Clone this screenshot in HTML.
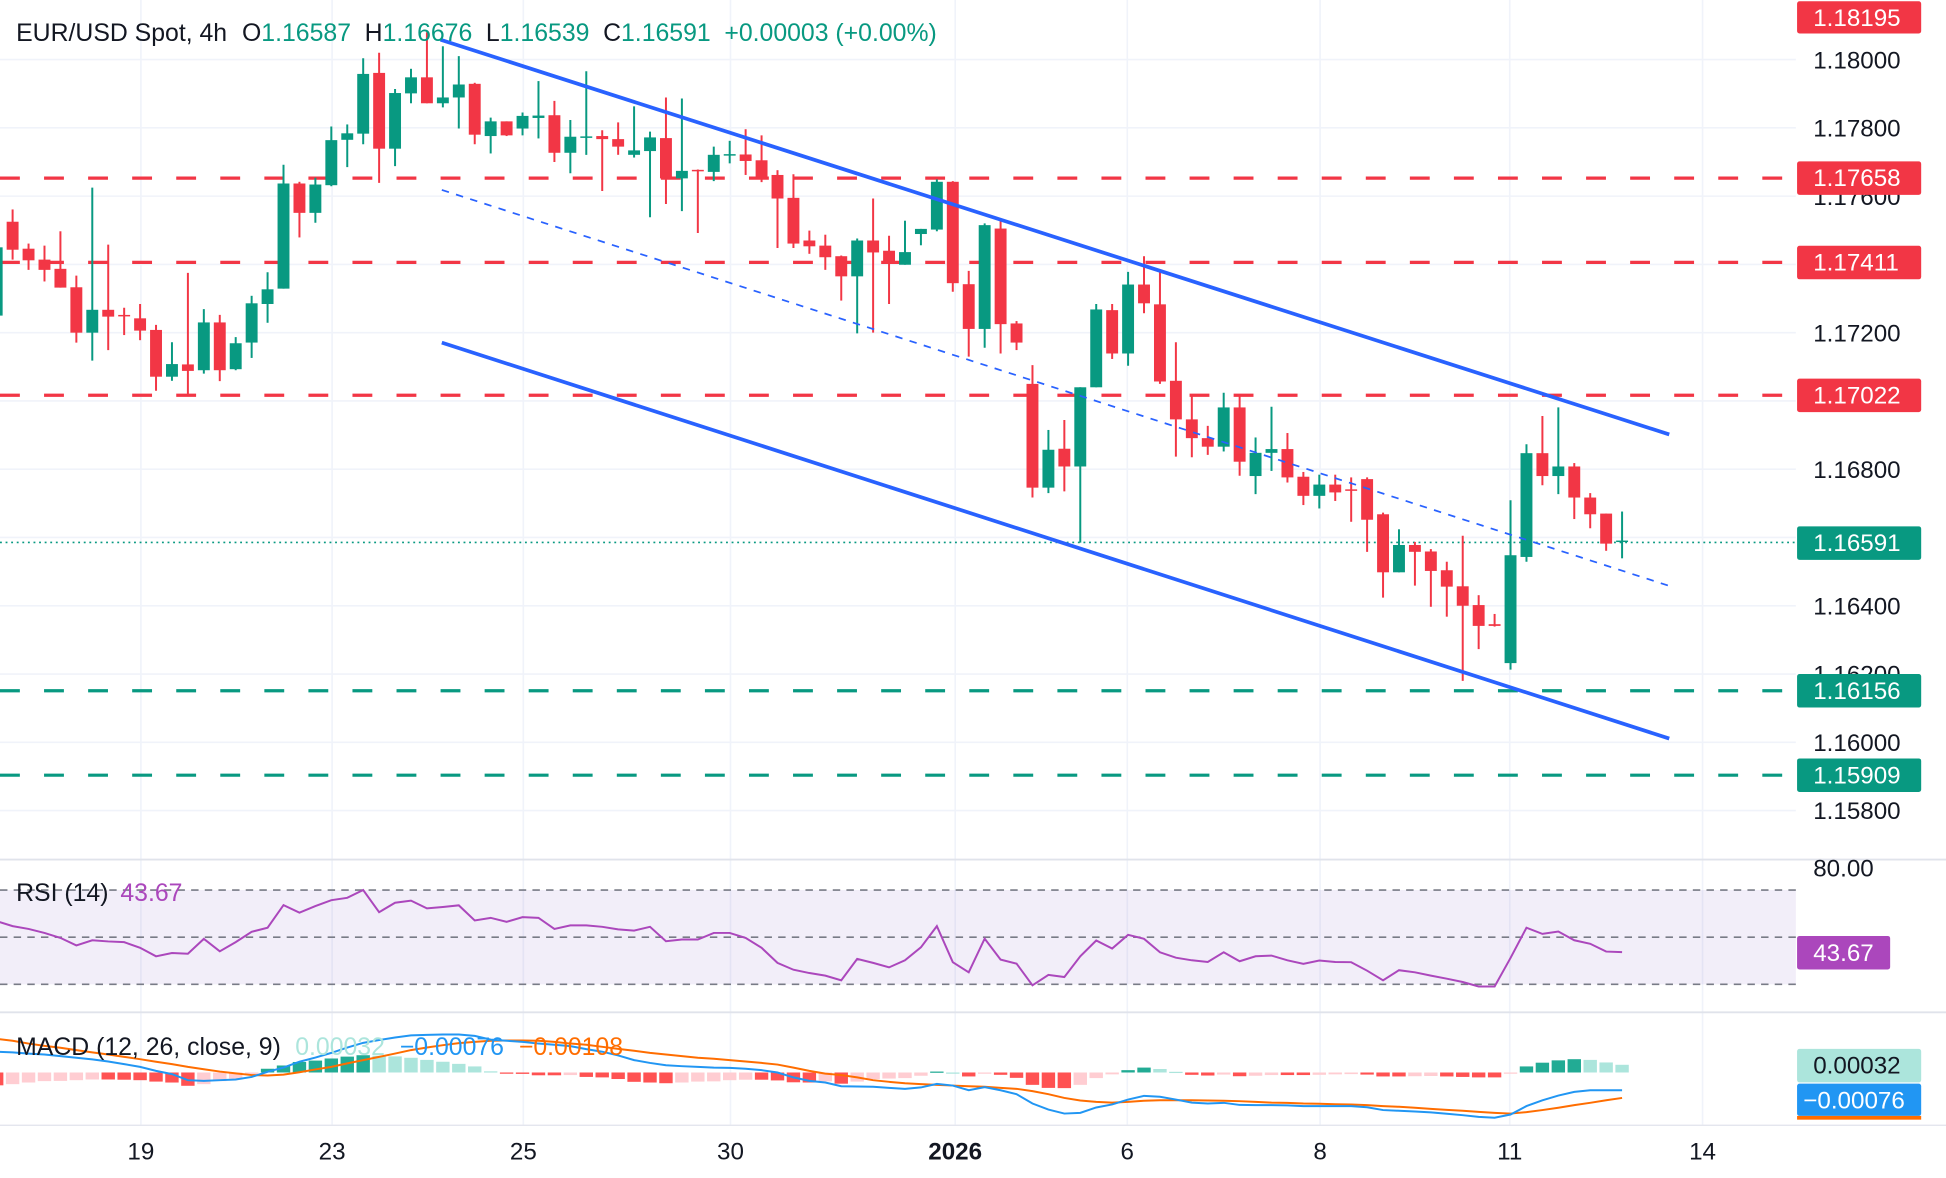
<!DOCTYPE html>
<html><head><meta charset="utf-8"><style>
html,body{margin:0;padding:0;background:#fff;}
svg{display:block;font-family:"Liberation Sans",sans-serif;}
</style></head><body>
<svg id="chart" width="1946" height="1178" viewBox="0 0 1568 949" preserveAspectRatio="none" xmlns="http://www.w3.org/2000/svg">
<defs>
<clipPath id="mainClip"><rect x="0" y="0" width="1447" height="692"/></clipPath>
<clipPath id="rsiClip"><rect x="0" y="693" width="1447" height="122"/></clipPath>
<clipPath id="macdClip"><rect x="0" y="816" width="1447" height="90"/></clipPath>
</defs>
<rect x="0" y="0" width="1568" height="949" fill="#ffffff"/>
<g id="grid"></g>
<g id="rsiBand">
<rect x="0" y="717" width="1447" height="76" fill="#7e57c2" fill-opacity="0.1"/>
<line x1="0" y1="717" x2="1447" y2="717" stroke="#787b86" stroke-width="1.3" stroke-dasharray="6 5"/>
<line x1="0" y1="755" x2="1447" y2="755" stroke="#787b86" stroke-width="1.3" stroke-dasharray="6 5"/>
<line x1="0" y1="793" x2="1447" y2="793" stroke="#787b86" stroke-width="1.3" stroke-dasharray="6 5"/>
</g>
<g id="levels" clip-path="url(#mainClip)">
<line x1="0" y1="143.5" x2="1447" y2="143.5" stroke="#f23645" stroke-width="2.6" stroke-dasharray="16 19.5"/>
<line x1="0" y1="211.4" x2="1447" y2="211.4" stroke="#f23645" stroke-width="2.6" stroke-dasharray="16 19.5"/>
<line x1="0" y1="318.4" x2="1447" y2="318.4" stroke="#f23645" stroke-width="2.6" stroke-dasharray="16 19.5"/>
<line x1="0" y1="556.5" x2="1447" y2="556.5" stroke="#089981" stroke-width="2.6" stroke-dasharray="16 19.5"/>
<line x1="0" y1="624.5" x2="1447" y2="624.5" stroke="#089981" stroke-width="2.6" stroke-dasharray="16 19.5"/>
<line x1="0" y1="437" x2="1447" y2="437" stroke="#089981" stroke-width="1.3" stroke-dasharray="1.5 3"/>
</g>
<g id="candles" clip-path="url(#mainClip)"></g>
<g id="channel" clip-path="url(#mainClip)">
<line x1="355" y1="32" x2="1345" y2="350" stroke="#2962ff" stroke-width="3"/>
<line x1="356" y1="276" x2="1345" y2="595" stroke="#2962ff" stroke-width="3"/>
<line x1="356" y1="153" x2="1345" y2="472" stroke="#2962ff" stroke-width="1.4" stroke-dasharray="6 6"/>
</g>
<g id="rsi" clip-path="url(#rsiClip)"></g>
<g id="macd" clip-path="url(#macdClip)"></g>
<line x1="0" y1="692.5" x2="1568" y2="692.5" stroke="#e0e3eb" stroke-width="1.5"/>
<line x1="0" y1="815.5" x2="1568" y2="815.5" stroke="#e0e3eb" stroke-width="1.5"/>
<line x1="0" y1="906.5" x2="1568" y2="906.5" stroke="#e0e3eb" stroke-width="1"/>
<g id="yaxis" font-size="19.5" fill="#131722"></g>
<g id="xaxis" font-size="19.5" fill="#131722" text-anchor="middle"></g>
<g font-size="19.5">
<rect x="1448" y="1" width="100" height="26" rx="2" fill="#f23645"/><text x="1461" y="21" fill="#fff">1.18195</text>
<rect x="1448" y="130" width="100" height="27" rx="2" fill="#f23645"/><text x="1461" y="150" fill="#fff">1.17658</text>
<rect x="1448" y="198" width="100" height="27" rx="2" fill="#f23645"/><text x="1461" y="218" fill="#fff">1.17411</text>
<rect x="1448" y="305" width="100" height="27" rx="2" fill="#f23645"/><text x="1461" y="325" fill="#fff">1.17022</text>
<rect x="1448" y="424" width="100" height="27" rx="2" fill="#089981"/><text x="1461" y="444" fill="#fff">1.16591</text>
<rect x="1448" y="543" width="100" height="27" rx="2" fill="#089981"/><text x="1461" y="563" fill="#fff">1.16156</text>
<rect x="1448" y="611" width="100" height="27" rx="2" fill="#089981"/><text x="1461" y="631" fill="#fff">1.15909</text>
<text x="1461" y="706" fill="#131722">80.00</text>
<rect x="1448" y="754" width="75" height="27" rx="2" fill="#ab47bc"/><text x="1461" y="774" fill="#fff">43.67</text>
<rect x="1448" y="845" width="100" height="27" rx="2" fill="#ace5dc"/><text x="1461" y="865" fill="#131722">0.00032</text>
<rect x="1448" y="873" width="100" height="26" rx="2" fill="#2196f3"/><text x="1453" y="893" fill="#fff">−0.00076</text>
<rect x="1448" y="899" width="100" height="3" fill="#ff6d00"/>
</g>
<g font-size="20">
<text x="13" y="33" fill="#131722"><tspan>EUR/USD Spot, 4h</tspan><tspan dx="12">O</tspan><tspan fill="#089981">1.16587</tspan><tspan dx="11">H</tspan><tspan fill="#089981">1.16676</tspan><tspan dx="11">L</tspan><tspan fill="#089981">1.16539</tspan><tspan dx="11">C</tspan><tspan fill="#089981">1.16591</tspan><tspan dx="11" fill="#089981">+0.00003 (+0.00%)</tspan></text>
</g>
<g font-size="20"><text x="13" y="726" fill="#131722">RSI (14) <tspan fill="#ab47bc" dx="4">43.67</tspan></text></g>
<g font-size="20"><text x="13" y="850" fill="#131722">MACD (12, 26, close, 9) <tspan fill="#ace5dc" dx="6">0.00032</tspan><tspan fill="#2196f3" dx="12">−0.00076</tspan><tspan fill="#ff6d00" dx="12">−0.00108</tspan></text></g>
</svg>
<script>
const opens=[1.1725,1.17525,1.17446,1.17414,1.17387,1.17333,1.172,1.17267,1.17252,1.17242,1.17208,1.17071,1.17107,1.1709,1.1723,1.17093,1.17171,1.17284,1.17329,1.17637,1.17551,1.17632,1.17765,1.17783,1.17961,1.17739,1.17901,1.17948,1.17872,1.17889,1.17929,1.17776,1.17819,1.17798,1.17829,1.17837,1.17727,1.17772,1.17776,1.17767,1.17721,1.17732,1.1777,1.17652,1.17677,1.17671,1.17721,1.17722,1.17705,1.17662,1.17595,1.1747,1.17455,1.17424,1.17365,1.1747,1.1744,1.17399,1.17489,1.17502,1.17642,1.17342,1.17211,1.17505,1.17227,1.1705,1.16746,1.1686,1.16808,1.1704,1.17266,1.17139,1.17341,1.17283,1.17059,1.16946,1.16891,1.16866,1.16981,1.1678,1.16848,1.16859,1.16778,1.16722,1.16755,1.16741,1.16771,1.16668,1.16498,1.16578,1.16559,1.16504,1.16457,1.16402,1.16346,1.16232,1.16543,1.16847,1.1678,1.16808,1.16717,1.1667,1.16587];
const highs=[1.1757,1.17561,1.17461,1.17455,1.17497,1.17367,1.17625,1.17458,1.17273,1.17284,1.17223,1.17172,1.17375,1.17269,1.17252,1.17187,1.17308,1.17377,1.17692,1.17642,1.17654,1.17804,1.1781,1.18004,1.1802,1.17914,1.17973,1.1808,1.18039,1.1801,1.17932,1.1783,1.17819,1.17845,1.17937,1.17879,1.17823,1.17966,1.17793,1.17816,1.17863,1.17789,1.17889,1.17886,1.17678,1.17745,1.17762,1.17796,1.17778,1.17676,1.17664,1.17499,1.17487,1.17426,1.17476,1.17593,1.17484,1.17528,1.17504,1.17649,1.17644,1.17381,1.1752,1.17528,1.17234,1.17105,1.16915,1.16944,1.1704,1.17284,1.17284,1.17378,1.17424,1.17385,1.17172,1.17013,1.16927,1.17024,1.17013,1.16893,1.16983,1.16906,1.16792,1.16784,1.16784,1.16776,1.16776,1.16673,1.16624,1.16587,1.16566,1.16529,1.16605,1.16431,1.16376,1.16709,1.16873,1.16956,1.16981,1.16818,1.1673,1.1667,1.16676];
const lows=[1.1713,1.17414,1.17384,1.1735,1.17332,1.17171,1.17118,1.17149,1.17193,1.17178,1.1703,1.17059,1.17017,1.1708,1.17058,1.1709,1.17126,1.17229,1.17329,1.17479,1.17522,1.17629,1.17685,1.17752,1.17639,1.17688,1.17872,1.17872,1.1786,1.17798,1.17752,1.17725,1.17776,1.17778,1.17769,1.177,1.17667,1.17721,1.17615,1.17721,1.17713,1.17538,1.17577,1.17556,1.17492,1.17644,1.17696,1.17662,1.17641,1.17448,1.17448,1.17431,1.17384,1.17294,1.17198,1.172,1.17284,1.17399,1.17456,1.17497,1.1732,1.1713,1.17156,1.17139,1.17149,1.16717,1.1673,1.16735,1.16585,1.1704,1.17123,1.17103,1.17257,1.1705,1.16837,1.16835,1.16842,1.16852,1.16781,1.16727,1.16795,1.16761,1.16695,1.16685,1.16707,1.16646,1.16558,1.16424,1.16498,1.16459,1.16397,1.16368,1.1618,1.16273,1.16339,1.16213,1.16529,1.16753,1.16727,1.16654,1.16627,1.16561,1.16539];
const closes=[1.1745,1.17443,1.17412,1.17384,1.17332,1.172,1.17267,1.17247,1.1725,1.17206,1.17071,1.17108,1.17088,1.1723,1.1709,1.17169,1.17286,1.17327,1.17637,1.17551,1.17634,1.17764,1.17784,1.17958,1.17739,1.17902,1.17948,1.17872,1.17889,1.17927,1.1778,1.17819,1.17778,1.17835,1.17836,1.17727,1.17774,1.17775,1.17767,1.17745,1.17734,1.17772,1.17652,1.17674,1.17673,1.17721,1.17723,1.17703,1.17654,1.17593,1.17461,1.17453,1.17421,1.17365,1.1747,1.17435,1.17409,1.17436,1.17504,1.17642,1.17345,1.17211,1.17515,1.17225,1.17171,1.16746,1.16857,1.16808,1.1704,1.17268,1.17139,1.17341,1.17286,1.17057,1.16946,1.16891,1.16866,1.16981,1.16822,1.16848,1.16859,1.16776,1.16722,1.16755,1.16732,1.16738,1.16652,1.16498,1.16578,1.16558,1.16502,1.16456,1.164,1.16341,1.16341,1.16548,1.16847,1.1678,1.16808,1.16717,1.16668,1.16582,1.16591];
const rsiValues=[56.8,54.7,53.5,51.8,49.7,46.5,48.7,48.2,47.9,45.5,41.9,43.3,43.0,49.3,44.0,47.9,52.3,54.0,63.6,60.4,63.2,65.7,66.7,70.0,60.6,64.6,65.5,62.2,62.8,63.5,57.1,58.2,56.5,58.5,58.2,53.5,55.0,55.0,54.4,53.3,52.8,54.4,48.3,49.0,49.0,51.8,51.8,49.7,45.5,39.1,36.2,34.8,33.7,31.7,40.8,39.1,37.2,40.2,45.7,54.7,39.4,35.1,49.4,40.5,38.8,29.6,34.0,33.1,41.9,48.6,45.2,51.0,49.3,43.6,41.3,40.2,39.5,43.6,39.8,41.9,42.2,40.2,38.7,40.1,39.5,39.4,35.8,31.7,36.0,35.1,33.7,32.4,31.0,29.1,29.1,41.2,54.0,51.4,52.4,48.7,47.2,43.9,43.67];
const macdValues=[89,86,81,77,70,63,56,47,36,24,7,-7,-33,-36,-33,-30,-19,3,21,46,64,84,107,127,139,150,159,161,163,163,157,141,136,131,124,119,113,100,89,73,53,41,31,27,24,21,20,16,10,0,-21,-36,-43,-59,-60,-61,-66,-70,-64,-49,-56,-76,-63,-76,-93,-133,-159,-176,-173,-150,-137,-116,-100,-104,-116,-129,-133,-130,-139,-140,-140,-141,-144,-144,-144,-144,-149,-161,-164,-167,-171,-177,-183,-190,-194,-180,-144,-119,-99,-83,-76,-76,-76];
const signalValues=[144,136,124,114,106,96,86,77,67,57,46,36,24,14,4,-4,-11,-13,-9,1,13,24,39,53,67,81,96,107,117,126,131,136,137,137,136,131,124,119,110,101,93,84,77,70,63,59,53,47,41,34,21,7,-5,-11,-21,-33,-40,-46,-50,-53,-56,-59,-61,-66,-70,-80,-93,-109,-120,-126,-129,-126,-121,-119,-119,-119,-120,-121,-123,-126,-129,-130,-133,-134,-136,-137,-140,-144,-147,-151,-156,-160,-164,-169,-173,-176,-170,-161,-151,-140,-130,-119,-109];
const priceTicks=[1.18,1.178,1.176,1.174,1.172,1.17,1.168,1.166,1.164,1.162,1.16,1.158];
const dateLabels=["19","23","25","30","2026","6","8","11","14"];
const dateIndex=[9.05,21.05,33.05,46.05,60.15,70.95,83.05,94.95,107.05];

const NS="http://www.w3.org/2000/svg";
const N=opens.length;
const xOf=i=>1307-(N-1-i)*12.84;
const yP=p=>48+(1.18-p)*27500;
const yR=v=>755-(v-50)*1.9;
const yM=v=>864-v*1e-5*18800;
function mk(tag,attrs,parent){const e=document.createElementNS(NS,tag);for(const k in attrs)e.setAttribute(k,attrs[k]);parent.appendChild(e);return e;}

const grid=document.getElementById('grid');
dateIndex.forEach((di,k)=>{const x=xOf(di);
 const l=mk('line',{x1:x,y1:0,x2:x,y2:906,stroke:'#f0f3fa','stroke-width':1.3},grid);
 
 
});
priceTicks.forEach(p=>{const y=yP(p);
 const l=mk('line',{x1:0,y1:y,x2:1447,y2:y,stroke:'#f0f3fa','stroke-width':1.3},grid);
 
 
});
const ya=document.getElementById('yaxis');
priceTicks.forEach(p=>{const y=yP(p);
 if(y>680)return;
 const t=mk('text',{x:1461,y:y+7},ya);t.textContent=p.toFixed(5);
 
 
});
const xa=document.getElementById('xaxis');
dateLabels.forEach((s,k)=>{
 const t=mk('text',{x:xOf(dateIndex[k]),y:934},xa);t.textContent=s;
 if(s==="2026")t.setAttribute('font-weight','bold');
 
 
});

const cg=document.getElementById('candles');
for(let i=0;i<N;i++){
 const up=closes[i]>=opens[i];const col=up?'#089981':'#f23645';const x=xOf(i);
 const w=mk('line',{x1:x,y1:yP(highs[i]),x2:x,y2:yP(lows[i]),stroke:col,'stroke-width':1.6},cg);
 
 
 const top=yP(Math.max(opens[i],closes[i]));const bot=yP(Math.min(opens[i],closes[i]));
 const b=mk('rect',{x:x-4.8,y:top,width:9.6,height:Math.max(1.2,bot-top),fill:col},cg);
 
 
}

const rg=document.getElementById('rsi');
const rl=mk('polyline',{points:rsiValues.map((v,i)=>xOf(i)+','+yR(v)).join(' '),fill:'none',stroke:'#ab47bc','stroke-width':1.6},rg);



const mg=document.getElementById('macd');
let prev=null;
for(let i=0;i<N;i++){
 const h=macdValues[i]-signalValues[i];const x=xOf(i);
 let col;
 if(h>=0)col=(prev!==null&&h<prev)?'#ace5dc':'#22ab94';else col=(prev!==null&&h>prev)?'#ffcdd2':'#ff5252';
 prev=h;
 const y0=yM(0),y1=yM(h);
 const r=mk('rect',{x:x-5.4,y:Math.min(y0,y1),width:10.8,height:Math.max(1,Math.abs(y1-y0)),fill:col},mg);
 
 
}
const sl=mk('polyline',{points:signalValues.map((v,i)=>xOf(i)+','+yM(v)).join(' '),fill:'none',stroke:'#ff6d00','stroke-width':1.6},mg);


const ml=mk('polyline',{points:macdValues.map((v,i)=>xOf(i)+','+yM(v)).join(' '),fill:'none',stroke:'#2196f3','stroke-width':1.6},mg);


</script>
</body></html>
